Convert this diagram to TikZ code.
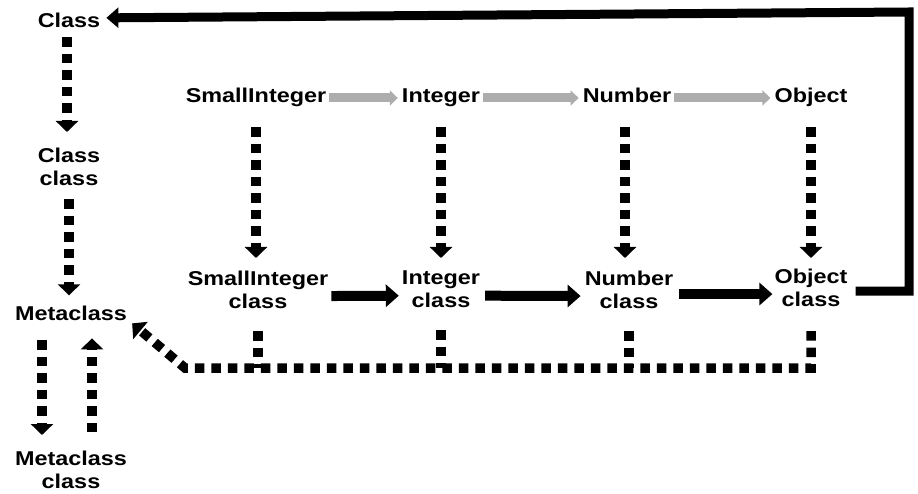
\documentclass[tikz,border=0pt]{standalone}
\usepackage{fontspec}
\newfontfamily\lblfont[FakeStretch=1.17]{Liberation Sans}
\usetikzlibrary{arrows.meta}
\begin{document}
\begin{tikzpicture}[x=1pt,y=-1pt,
  lbl/.style={font=\lblfont\bfseries\fontsize{20}{23}\selectfont, inner sep=0pt, align=center},
  toplbl/.style={lbl, text height=14pt, text depth=4pt, anchor=base},
  twolbl/.style={lbl, anchor=north},
  dotln/.style={line width=9.5pt, dash pattern=on 9.5pt off 7pt, line cap=butt},
  dotarr/.style={dotln, -{Triangle[width=22pt,length=11pt]}},
  blackarr/.style={line width=10pt, -{Triangle[width=22pt,length=13pt]}},
  grayarr/.style={line width=9pt, draw=black!32, -{Triangle[width=15pt,length=8pt]}},
  loopln/.style={line width=9pt, line join=miter, -{Triangle[width=20pt,length=12pt]}}
]
\useasboundingbox (0,0) rectangle (918,494);

% left column
\node[lbl, anchor=base] (cls) at (69,28) {Class};
\node[twolbl] (clscls) at (69,148) {Class\\class};
\node[lbl, anchor=base] (meta) at (71,320) {Metaclass};
\node[twolbl] (metacls) at (71,451) {Metaclass\\class};

% top row
\node[toplbl] (si) at (256,103) {SmallInteger};
\node[toplbl] (int) at (441,103) {Integer};
\node[toplbl] (num) at (627,103) {Number};
\node[toplbl] (obj) at (811,103) {Object};

% class row
\node[twolbl] (sic) at (258,271) {SmallInteger\\class};
\node[twolbl] (intc) at (441,271) {Integer\\class};
\node[twolbl] (numc) at (629,271) {Number\\class};
\node[twolbl] (objc) at (811,269) {Object\\class};

\coordinate (bl) at (185,368);
\coordinate (tr) at (909,12);

% left column dotted arrows
\draw[dotarr, shorten <=9pt, shorten >=16pt] ([xshift=-2pt]cls.south) -- ([xshift=-2pt]clscls.north);
\draw[dotarr, shorten <=13pt, shorten >=10pt] (clscls.south) -- (clscls.south |- meta.north);
\draw[dotarr, shorten <=20pt, shorten >=16pt] ([xshift=-29pt]meta.south) -- ([xshift=-29pt]metacls.north);
\draw[dotarr, shorten <=19pt, shorten >=18pt] ([xshift=21pt]metacls.north) -- ([xshift=21pt]meta.south);

% instance-of dotted arrows
\draw[dotarr, shorten <=20pt, shorten >=13pt] (si.south) -- (si.south |- sic.north);
\draw[dotarr, shorten <=20pt, shorten >=13pt] (int.south) -- (int.south |- intc.north);
\draw[dotarr, shorten <=20pt, shorten >=13pt] ([xshift=-2pt]num.south) -- ([xshift=-2pt]num.south |- numc.north);
\draw[dotarr, shorten <=20pt, shorten >=11pt] (obj.south) -- (obj.south |- objc.north);

% gray superclass arrows
\draw[grayarr, shorten <=3pt, shorten >=4pt] (si.east) -- (int.west);
\draw[grayarr, shorten <=3pt, shorten >=4pt] (int.east) -- (num.west);
\draw[grayarr, shorten <=3pt, shorten >=4pt] (num.east) -- (obj.west);

% black class-row arrows
\draw[blackarr, shorten <=3pt, shorten >=3pt] ([yshift=-6pt]sic.east) -- ([yshift=-6pt]intc.west);
\draw[blackarr, shorten <=5pt, shorten >=4pt] ([yshift=-6pt]intc.east) -- ([yshift=-6pt]numc.west);
\draw[blackarr, shorten <=6pt, shorten >=2pt] ([yshift=-4pt]numc.east) -- ([yshift=-4pt]numc.east -| objc.west);

% big loop from Object class to Class
\draw[loopln] ([xshift=8pt,yshift=-3pt]objc.east) -| (tr) -- ([xshift=6pt,yshift=3pt]cls.east);

% bottom dotted lines to Metaclass
\draw[dotln, shorten <=22pt] (sic.south) -- (sic.south |- bl);
\draw[dotln, shorten <=22pt] (intc.south) -- (intc.south |- bl);
\draw[dotln, shorten <=22pt] (numc.south) -- (numc.south |- bl);
\draw[dotarr, shorten <=24pt] (objc.south) -- (objc.south |- bl) -- (bl) -- ([xshift=5pt,yshift=-3pt]meta.south east);
\end{tikzpicture}
\end{document}
